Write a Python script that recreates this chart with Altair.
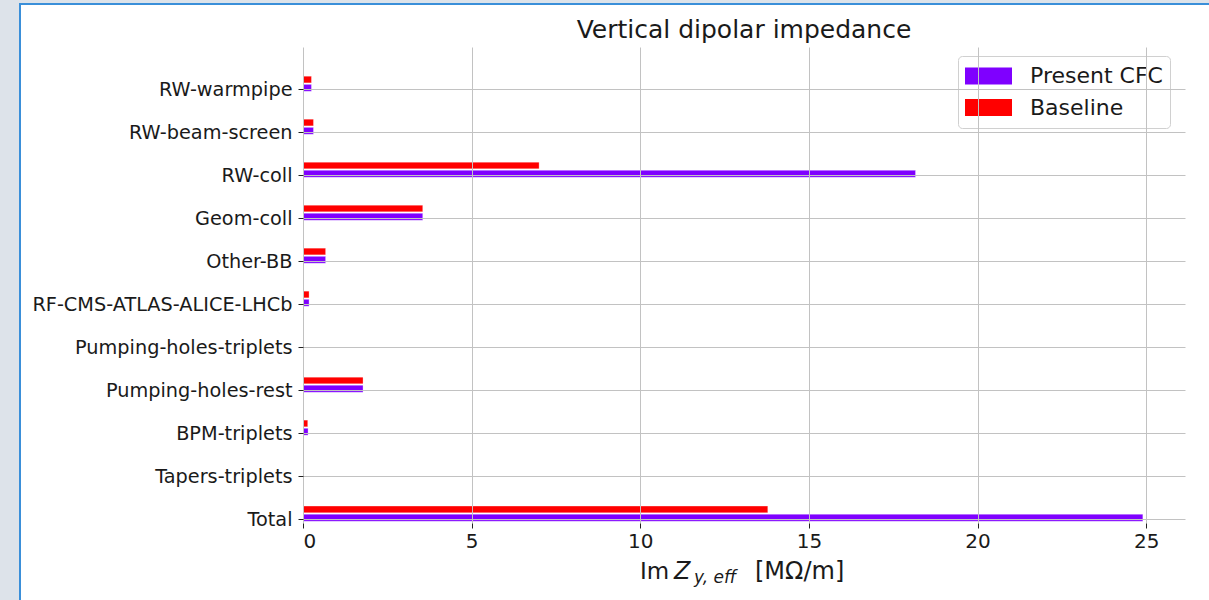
import altair as alt
import pandas as pd

# categories listed from top to bottom
categories = [
    "RW-warmpipe", "RW-beam-screen", "RW-coll", "Geom-coll", "Other-BB",
    "RF-CMS-ATLAS-ALICE-LHCb", "Pumping-holes-triplets", "Pumping-holes-rest",
    "BPM-triplets", "Tapers-triplets", "Total",
]
present_cfc = [0.25, 0.31, 18.16, 3.55, 0.67, 0.18, 0.0, 1.78, 0.15, 0.0, 24.9]
baseline = [0.25, 0.31, 7.0, 3.55, 0.67, 0.18, 0.0, 1.78, 0.14, 0.0, 13.78]
series_names = ["Present CFC", "Baseline"]
series_colors = ["#7f00ff", "#ff0000"]
x_ticks = [0, 5, 10, 15, 20, 25]
chart_title = "Vertical dipolar impedance"

n = len(categories)
rows = []
for k, cat in enumerate(categories):
    pos = n - 1 - k  # Total at 0, RW-warmpipe at top
    rows.append({"cat": cat, "series": series_names[0], "value": present_cfc[k],
                 "y0": pos - 0.05, "y1": pos + 0.11})
    rows.append({"cat": cat, "series": series_names[1], "value": baseline[k],
                 "y0": pos + 0.145, "y1": pos + 0.30})
df = pd.DataFrame(rows)

label_list = list(reversed(categories))
label_expr = "[" + ",".join("'" + c + "'" for c in label_list) + "][datum.value]"

FONT = "DejaVu Sans"
TXT = "#1a1a1a"
GRID = "#c2c2c2"

panel = alt.Chart(alt.Data(values=[{}])).mark_rect(
    fill="white", stroke="#3a8fd9", strokeWidth=2
).encode(
    x=alt.value(-283), x2=alt.value(917), y=alt.value(-43), y2=alt.value(573)
)

bars = alt.Chart(df).mark_bar(stroke="white", strokeWidth=0.6, strokeOpacity=0.5).encode(
    x=alt.X("value:Q", scale=alt.Scale(domain=[0, 26.15], nice=False, zero=True),
            axis=alt.Axis(values=x_ticks, format="d", title=None, grid=True,
                          gridColor=GRID, gridWidth=1, domain=False,
                          tickColor="#222", tickSize=5, labelPadding=3,
                          labelFont=FONT, labelFontSize=20, labelColor=TXT,
                          zindex=1)),
    x2=alt.value(0),
    y=alt.Y("y0:Q", scale=alt.Scale(domain=[-0.093, 10.98], nice=False, zero=False),
            axis=alt.Axis(values=list(range(n)), labelExpr=label_expr, title=None,
                          grid=True, gridColor=GRID, gridWidth=1, domain=False,
                          tickColor="#222", tickSize=5, labelPadding=6,
                          labelLimit=500,
                          labelFont=FONT, labelFontSize=19.3, labelColor=TXT,
                          zindex=1)),
    y2="y1:Q",
    color=alt.Color("series:N",
                    scale=alt.Scale(domain=series_names, range=series_colors),
                    legend=alt.Legend(
                        title=None, orient="none", legendX=655, legendY=9,
                        symbolType="M-1,-0.36L1,-0.36L1,0.36L-1,0.36Z",
                        symbolSize=2209, symbolStrokeWidth=0,
                        clipHeight=26,
                        labelFont=FONT, labelFontSize=22, labelColor=TXT,
                        labelOffset=18, rowPadding=5.5, padding=7,
                        fillColor="white", strokeColor="#d0d0d0",
                        cornerRadius=4)),
)

tx_rows = [
    {"t": "Im", "x": 337, "y": 532, "fs": 23, "st": "normal", "al": "left"},
    {"t": "Z", "x": 371, "y": 532, "fs": 24, "st": "italic", "al": "left"},
    {"t": "y, eff", "x": 391, "y": 536, "fs": 17, "st": "italic", "al": "left"},
    {"t": "[MΩ/m]", "x": 452, "y": 532, "fs": 24, "st": "normal", "al": "left"},
    {"t": chart_title, "x": 441, "y": -9, "fs": 25, "st": "normal", "al": "center"},
]
text_layers = []
for r in tx_rows:
    text_layers.append(
        alt.Chart(alt.Data(values=[{"t": r["t"]}])).mark_text(
            align=r["al"], baseline="alphabetic", font=FONT, fontSize=r["fs"],
            fontStyle=r["st"], color=TXT
        ).encode(x=alt.value(r["x"]), y=alt.value(r["y"]), text="t:N")
    )

chart = alt.layer(panel, bars, *text_layers).properties(
    width=882, height=476,
    background="#dde3ea",
    autosize=alt.AutoSizeParams(type="none"),
    padding={"left": 303, "top": 47, "right": 24, "bottom": 77},
).configure_view(stroke="#222", strokeWidth=1.2, fill=None)

chart.save("out.html", embed_options={"renderer": "svg", "actions": False})
